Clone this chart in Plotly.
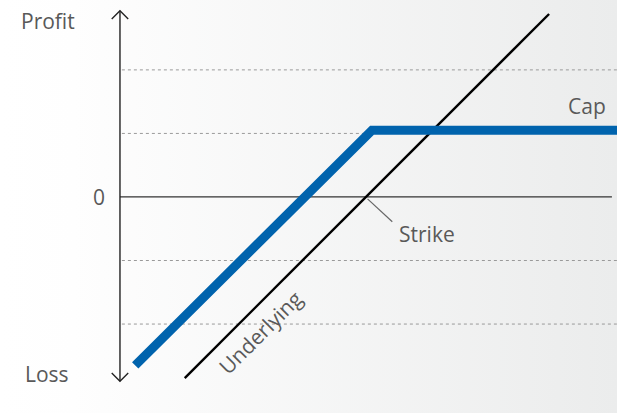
import plotly.graph_objects as go

# ---- data (units: 1 = one gridline step) ----
grid_levels = [2, 1, -1, -2]
underlying_x = [1.02, 6.76]
underlying_y = [-2.85, 2.88]
capped_x = [0.24, 3.97, 7.83]
capped_y = [-2.65, 1.05, 1.05]
strike = 3.87
axis_top = 2.93
axis_bottom = -2.9

X0, X1 = -1.89, 7.83
Y0, Y1 = -3.40, 3.10

fig = go.Figure()

# background gradient
fig.add_trace(go.Scatter(
    x=[X0, X1, X1, X0, X0], y=[Y0, Y0, Y1, Y1, Y0], mode="lines",
    line=dict(width=0), fill="toself",
    fillgradient=dict(type="horizontal",
                      colorscale=[[0, "#ffffff"], [0.12, "#fefefe"], [1, "#ebecec"]]),
    hoverinfo="skip", showlegend=False))

# dotted gridlines
for g in grid_levels:
    fig.add_trace(go.Scatter(x=[0.03, X1], y=[g, g], mode="lines",
                             line=dict(color="#9a9a9a", width=1, dash="dot"),
                             hoverinfo="skip", showlegend=False))

# zero line
fig.add_trace(go.Scatter(x=[0, 7.75], y=[0, 0], mode="lines",
                         line=dict(color="#333333", width=1.2),
                         hoverinfo="skip", showlegend=False))

# vertical axis with open arrowheads
ah = 0.13
fig.add_trace(go.Scatter(x=[0, 0], y=[axis_bottom, axis_top], mode="lines",
                         line=dict(color="#222222", width=1.4),
                         hoverinfo="skip", showlegend=False))
fig.add_trace(go.Scatter(x=[-ah, 0, ah], y=[axis_top - ah, axis_top, axis_top - ah], mode="lines",
                         line=dict(color="#222222", width=1.4),
                         hoverinfo="skip", showlegend=False))
fig.add_trace(go.Scatter(x=[-ah, 0, ah], y=[axis_bottom + ah, axis_bottom, axis_bottom + ah], mode="lines",
                         line=dict(color="#222222", width=1.4),
                         hoverinfo="skip", showlegend=False))

# strike leader line
fig.add_trace(go.Scatter(x=[strike + 0.03, strike + 0.42], y=[-0.03, -0.39], mode="lines",
                         line=dict(color="#666666", width=1.2),
                         hoverinfo="skip", showlegend=False))

# underlying
fig.add_trace(go.Scatter(x=underlying_x, y=underlying_y, mode="lines",
                         line=dict(color="#000000", width=2.4),
                         hoverinfo="skip", showlegend=False))

# capped payoff
fig.add_trace(go.Scatter(x=capped_x, y=capped_y, mode="lines",
                         line=dict(color="#0063ad", width=9),
                         hoverinfo="skip", showlegend=False))

font = dict(family="Open Sans", size=21, color="#595959")
labels = [
    ("Profit", -1.13, 2.77, 0),
    ("0", -0.33, 0.0, 0),
    ("Loss", -1.15, -2.79, 0),
    ("Cap", 7.35, 1.43, 0),
    ("Strike", 4.84, -0.59, 0),
    ("Underlying", 2.22, -2.13, -45),
]
for t, x, y, a in labels:
    fig.add_annotation(x=x, y=y, text=t, showarrow=False, font=font,
                       textangle=a, xanchor="center", yanchor="middle")

fig.update_layout(
    width=617, height=413, margin=dict(l=0, r=0, t=0, b=0),
    paper_bgcolor="white", plot_bgcolor="white",
    xaxis=dict(range=[X0, X1], visible=False, fixedrange=True),
    yaxis=dict(range=[Y0, Y1], visible=False, fixedrange=True),
    showlegend=False,
)

fig.write_html("out.html", config={"displayModeBar": False},
               post_script="document.body.style.margin='0';document.body.style.overflow='hidden';")
